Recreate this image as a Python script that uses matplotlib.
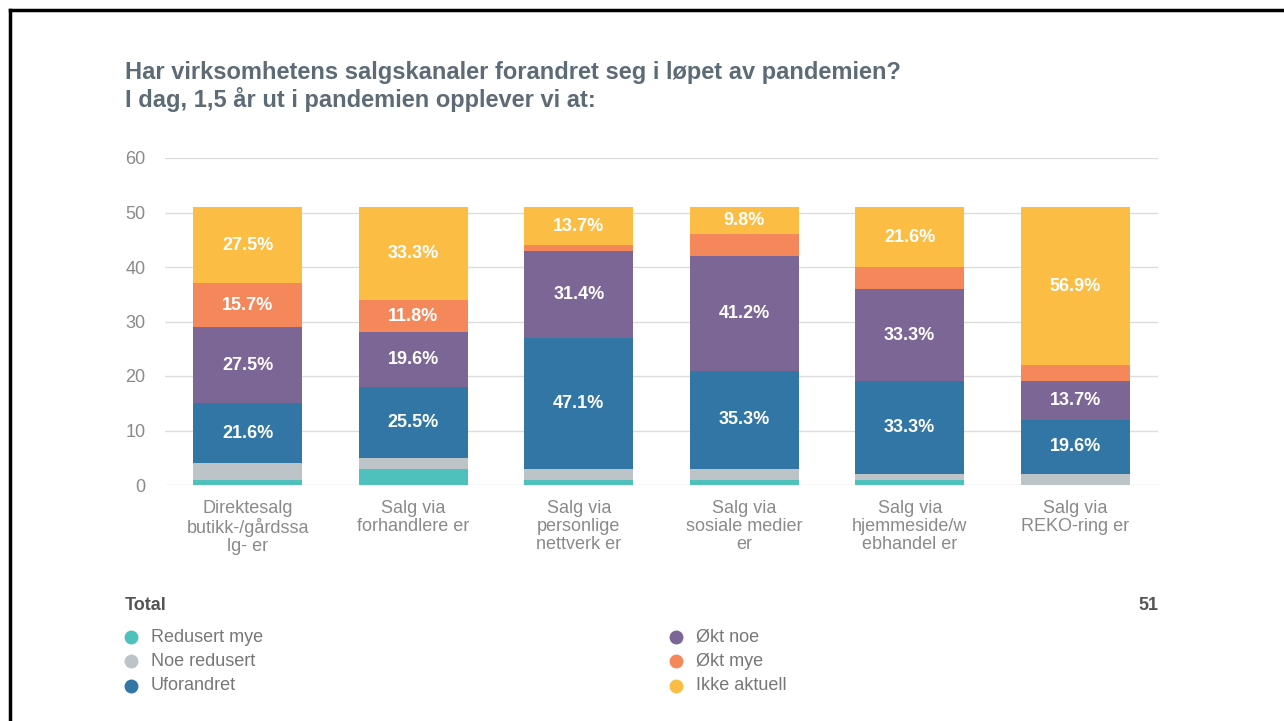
import matplotlib
matplotlib.use("Agg")
import matplotlib.pyplot as plt
from matplotlib.lines import Line2D
import numpy as np

plt.rcParams['font.family'] = ['Liberation Sans', 'DejaVu Sans']

categories = ["Direktesalg\nbutikk-/gårdssa\nlg- er", "Salg via\nforhandlere er",
              "Salg via\npersonlige\nnettverk er", "Salg via\nsosiale medier\ner",
              "Salg via\nhjemmeside/w\nebhandel er", "Salg via\nREKO-ring er"]
series_names = ["Redusert mye", "Noe redusert", "Uforandret", "Økt noe", "Økt mye", "Ikke aktuell"]
redusert_mye = [1, 3, 1, 1, 1, 0]
noe_redusert = [3, 2, 2, 2, 1, 2]
uforandret = [11, 13, 24, 18, 17, 10]
okt_noe = [14, 10, 16, 21, 17, 7]
okt_mye = [8, 6, 1, 4, 4, 3]
ikke_aktuell = [14, 17, 7, 5, 11, 29]
total_n = 51
yticks = [0, 10, 20, 30, 40, 50, 60]
colors = ["#4fc1bd", "#bdc4c7", "#3176a4", "#7c6696", "#f5885b", "#fcbd44"]

series = [redusert_mye, noe_redusert, uforandret, okt_noe, okt_mye, ikke_aktuell]

fig = plt.figure(figsize=(12.84, 7.21), dpi=100)
W, H = 1284, 721
ax = fig.add_axes([165 / W, 1 - 485 / H, (1158 - 165) / W, (485 - 158) / H])

x = np.arange(len(categories))
bottom = np.zeros(len(categories))
for vals, col in zip(series, colors):
    vals = np.array(vals, dtype=float)
    ax.bar(x, vals, bottom=bottom, width=0.66, color=col, zorder=3)
    for xi, v, b in zip(x, vals, bottom):
        pct = v / total_n * 100
        if pct >= 9:
            ax.text(xi, b + v / 2, f"{pct:.1f}%", ha="center", va="center",
                    color="white", fontsize=13, fontweight="bold", zorder=4)
    bottom += vals

ax.set_xlim(-0.5, len(categories) - 0.5)
ax.set_ylim(0, 60)
ax.set_yticks(yticks)
ax.yaxis.grid(True, color="#dcdcdc", linewidth=1, zorder=0)
ax.set_axisbelow(True)
for s in ax.spines.values():
    s.set_visible(False)
ax.tick_params(axis="y", length=0, pad=14, labelsize=13, labelcolor="#8a8a8a")
ax.tick_params(axis="x", length=0, pad=11, labelsize=13, labelcolor="#8a8a8a")
ax.set_xticks(x)
ax.set_xticklabels(categories, linespacing=1.05)

# title
fig.text(125 / W, 1 - 73 / H, "Har virksomhetens salgskanaler forandret seg i løpet av pandemien?",
         fontsize=17, fontweight="bold", color="#5d6b77", va="center", ha="left")
fig.text(125 / W, 1 - 100 / H, "I dag, 1,5 år ut i pandemien opplever vi at:",
         fontsize=17, fontweight="bold", color="#5d6b77", va="center", ha="left")

# legend area
fig.text(125 / W, 1 - 605 / H, "Total", fontsize=13, fontweight="bold", color="#555555",
         va="center", ha="left")
fig.text(1158 / W, 1 - 605 / H, str(total_n), fontsize=13, fontweight="bold", color="#555555",
         va="center", ha="right")
leg_pos = [(131, 637), (131, 661), (131, 686), (676, 637), (676, 661), (676, 686)]
for (px, py), name, col in zip(leg_pos, series_names, colors):
    fig.add_artist(Line2D([px / W], [1 - py / H], marker="o", markersize=9,
                          color=col, linestyle="none", transform=fig.transFigure))
    fig.text((px + 20) / W, 1 - py / H, name, fontsize=13, color="#777777",
             va="center", ha="left")

# border lines (top & left)
fig.add_artist(Line2D([10 / W, 1], [1 - 10 / H, 1 - 10 / H], color="black", linewidth=2.5,
                      transform=fig.transFigure))
fig.add_artist(Line2D([10 / W, 10 / W], [0, 1 - 10 / H], color="black", linewidth=2.5,
                      transform=fig.transFigure))

fig.savefig("out.png", dpi=100, facecolor="white")
